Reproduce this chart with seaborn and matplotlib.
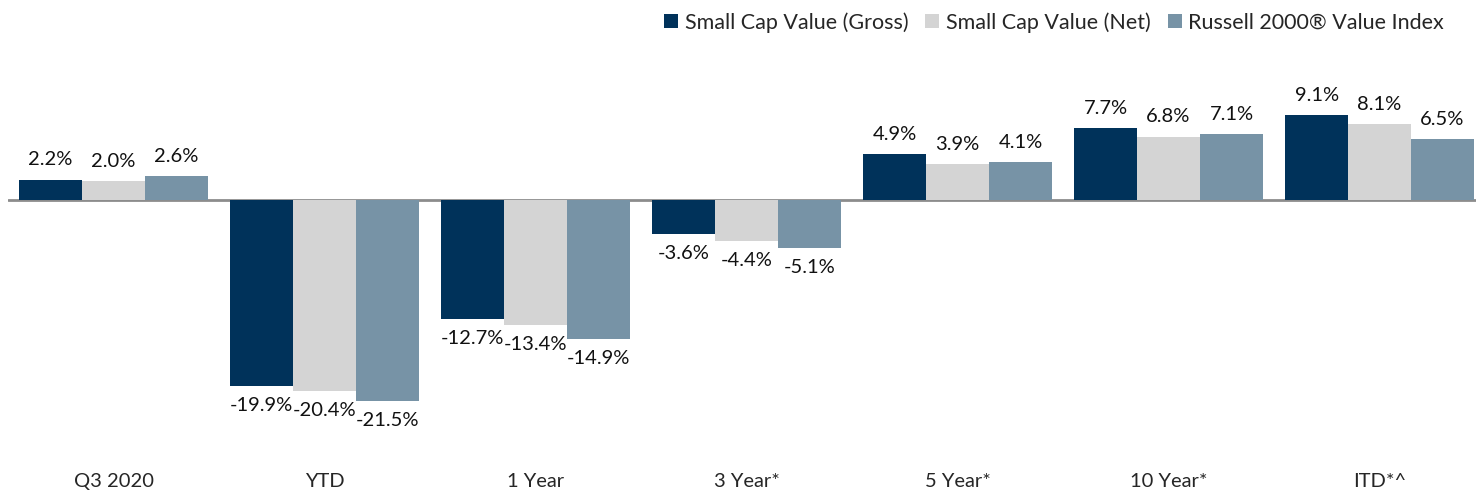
import matplotlib
matplotlib.use("Agg")
import matplotlib.pyplot as plt
import seaborn as sns
import pandas as pd
from matplotlib.patches import Patch

categories = ["Q3 2020", "YTD", "1 Year", "3 Year*", "5 Year*", "10 Year*", "ITD*^"]
series_names = ["Small Cap Value (Gross)", "Small Cap Value (Net)", "Russell 2000\u00ae Value Index"]
gross = [2.2, -19.9, -12.7, -3.6, 4.9, 7.7, 9.1]
net = [2.0, -20.4, -13.4, -4.4, 3.9, 6.8, 8.1]
index = [2.6, -21.5, -14.9, -5.1, 4.1, 7.1, 6.5]
colors = ["#00325A", "#D4D4D4", "#7793A6"]

rows = []
for name, vals in zip(series_names, [gross, net, index]):
    for c, v in zip(categories, vals):
        rows.append({"Period": c, "Series": name, "Value": v})
df = pd.DataFrame(rows)

sns.set_theme(style="white")
plt.rcParams["font.family"] = ["Lato", "DejaVu Sans"]

fig = plt.figure(figsize=(14.76, 4.92), dpi=100)
ax = fig.add_axes([8 / 1476, 1 - 440 / 492, 1 - 8 / 1476, (440 - 60) / 492])

sns.barplot(data=df, x="Period", y="Value", hue="Series", order=categories,
            hue_order=series_names, palette=colors, width=0.895, gap=0,
            saturation=1, legend=False, ax=ax, errorbar=None, linewidth=0)

for cont in ax.containers:
    ax.bar_label(cont, labels=[f"{v:.1f}%" for v in cont.datavalues],
                 padding=8, fontsize=14.5, color="#111111")

ax.set_ylim(-25.7, 15)
ax.set_xlim(-0.5, 6.457)
ax.axhline(0, color="#8C8C8C", lw=2, zorder=0)
for s in ax.spines.values():
    s.set_visible(False)
ax.set_yticks([])
ax.set_xlabel("")
ax.set_ylabel("")
ax.tick_params(axis="x", length=0, pad=24, labelsize=14.5)

handles = [Patch(facecolor=c, edgecolor="none") for c in colors]
fig.legend(handles, series_names, loc="upper right", bbox_to_anchor=(1444 / 1476, 1 - 12 / 492),
           ncol=3, frameon=False, fontsize=15.5, handlelength=0.65, handleheight=0.65,
           handletextpad=0.3, columnspacing=0.8, borderaxespad=0, borderpad=0)

fig.savefig("out.png", dpi=100)
